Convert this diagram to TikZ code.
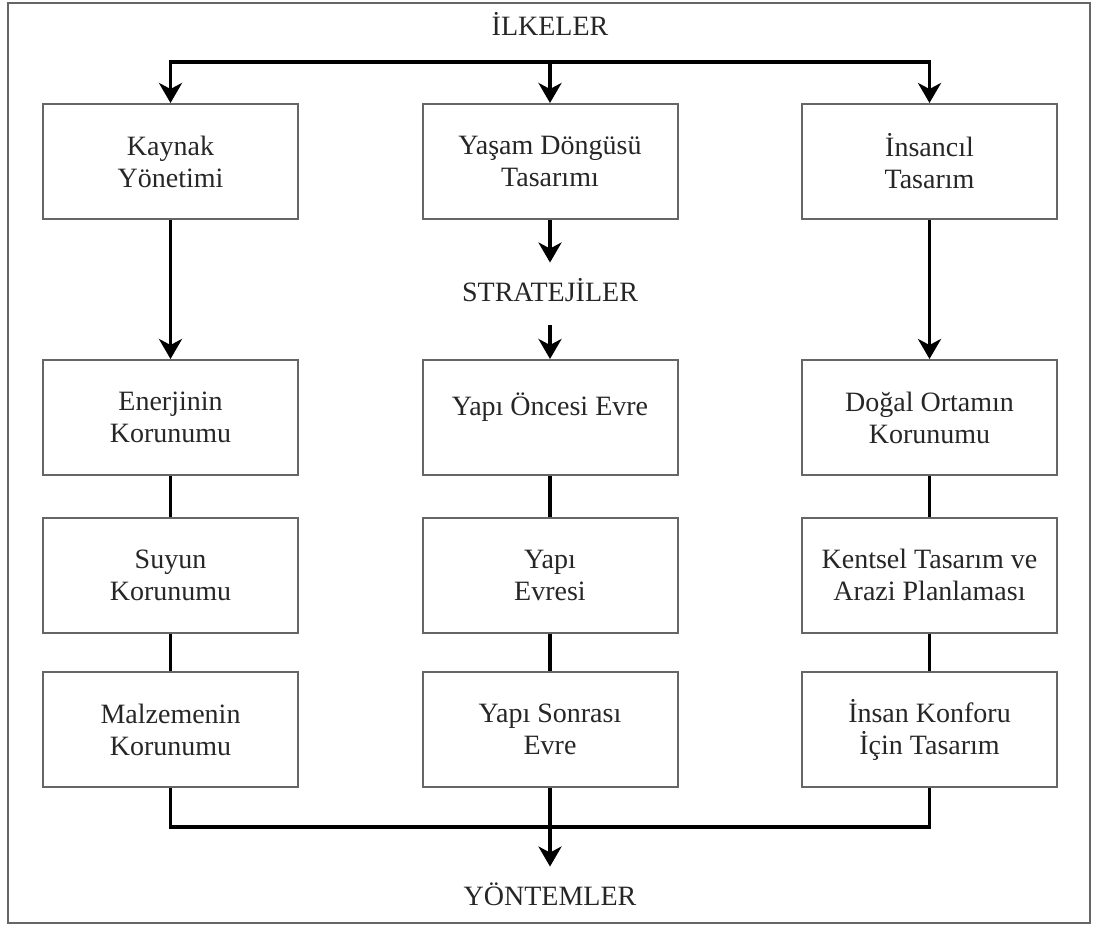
\documentclass[tikz,border=0pt]{standalone}
\usepackage{fontspec}
\setmainfont{Liberation Serif}
\usetikzlibrary{arrows.meta}
\begin{document}
\begin{tikzpicture}[x=1pt,y=-1pt,
  every node/.style={font=\fontsize{28}{32}\selectfont, text=black!85},
  box/.style={draw=black!60, line width=2pt, minimum width=255pt, minimum height=115pt,
    align=center, inner sep=0pt},
  label/.style={text height=18.5pt, text depth=0pt, inner xsep=2pt, inner ysep=20pt},
  conn/.style={line width=3.6pt, black},
  arr/.style={conn, -{Stealth[length=20pt, width=23pt, inset=6pt]}}]
  % frame of the whole figure
  \useasboundingbox (0,0) rectangle (1097,929);
  \draw[black!60, line width=2pt] (8,3) rectangle (1090,923);

  % headings
  \node[label] (ilk) at (550,26) {İLKELER};
  \node[label] (str) at (550,292) {STRATEJİLER};
  \node[label] (yon) at (550,896) {YÖNTEMLER};

  % left column
  \node[box] (k1) at (170.5,161.5) {Kaynak\\Yönetimi};
  \node[box] (k2) at (170.5,417.5) {Enerjinin\\Korunumu};
  \node[box] (k3) at (170.5,575) {Suyun\\Korunumu};
  \node[box] (k4) at (170.5,729.5) {Malzemenin\\Korunumu};

  % middle column
  \node[box] (m1) at (550,161.5) {Yaşam Döngüsü\\Tasarımı};
  \node[box, text height=24pt, text depth=29pt] (m2) at (550,417.5) {Yapı Öncesi Evre};
  \node[box] (m3) at (550,575) {Yapı\\Evresi};
  \node[box] (m4) at (550,729.5) {Yapı Sonrası\\Evre};

  % right column
  \node[box] (r1) at (929.5,161.5) {İnsancıl\\Tasarım};
  \node[box] (r2) at (929.5,417.5) {Doğal Ortamın\\Korunumu};
  \node[box] (r3) at (929.5,575) {Kentsel Tasarım ve\\Arazi Planlaması};
  \node[box] (r4) at (929.5,729.5) {İnsan Konforu\\İçin Tasarım};

  % distribution line under the top heading
  \coordinate (tl) at (170.5,62);
  \coordinate (tm) at (550,62);
  \coordinate (tr) at (929.5,62);
  \draw[conn, line cap=rect] (tl) -- (tr);
  \draw[arr] (tl) -- (k1.north);
  \draw[arr] (tm) -- (m1.north);
  \draw[arr] (tr) -- (r1.north);

  % flow down the columns
  \draw[arr] (k1.south) -- (k2.north);
  \draw[arr] (r1.south) -- (r2.north);
  \draw[arr] (m1.south) -- (str.north);
  \draw[arr, shorten <=4pt] (str.south) -- (m2.north);
  \draw[conn] (k2.south) -- (k3.north);
  \draw[conn] (k3.south) -- (k4.north);
  \draw[conn] (m2.south) -- (m3.north);
  \draw[conn] (m3.south) -- (m4.north);
  \draw[conn] (r2.south) -- (r3.north);
  \draw[conn] (r3.south) -- (r4.north);

  % collecting line towards the methods
  \coordinate (bl) at (170.5,827);
  \coordinate (br) at (929.5,827);
  \draw[conn, line join=miter] (k4.south) -- (bl) -- (br) -- (r4.south);
  \draw[arr] (m4.south) -- (yon.north);
\end{tikzpicture}
\end{document}
